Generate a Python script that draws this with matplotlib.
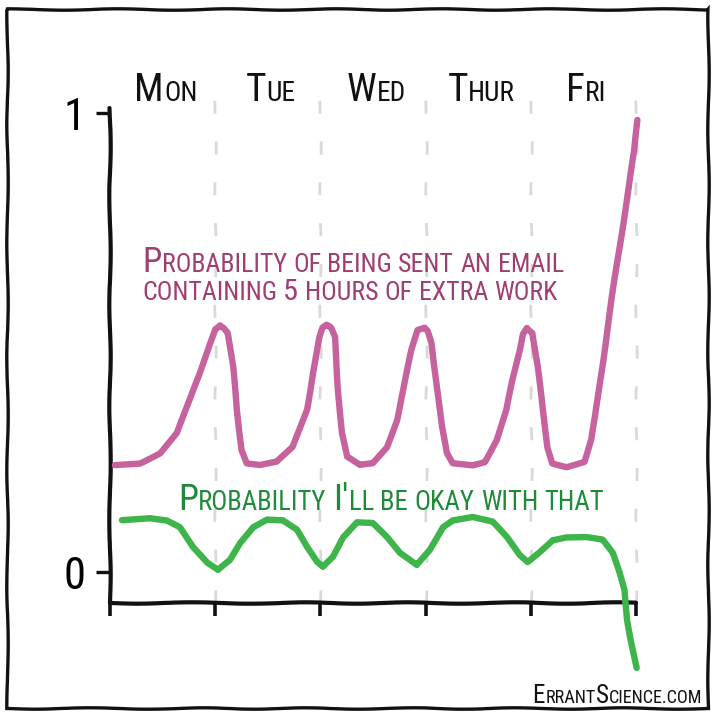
import numpy as np
import matplotlib
matplotlib.use("Agg")
import matplotlib.pyplot as plt
from matplotlib.transforms import IdentityTransform
from matplotlib.patches import Rectangle

# ---------------- data ----------------
days = ["Mon", "Tue", "Wed", "Thur", "Fri"]
day_bounds = [1, 2, 3, 4, 5]
x_ticks = [0, 1, 2, 3, 4, 5]
y_ticks = [0, 1]
y_tick_labels = ["0", "1"]

email_x = [0.047, 0.285, 0.475, 0.636, 0.760, 0.855, 0.950, 0.997, 1.045, 1.083,
           1.121, 1.168,
           1.206, 1.254, 1.301, 1.425, 1.586, 1.738, 1.871, 1.928, 1.994, 2.023,
           2.061, 2.099,
           2.137, 2.165, 2.203, 2.251, 2.374, 2.498, 2.631, 2.726, 2.801, 2.868,
           2.925, 2.991, 3.020, 3.058, 3.105, 3.153, 3.200, 3.257, 3.447, 3.561,
           3.675, 3.770, 3.827, 3.894, 3.922, 3.960, 4.017, 4.065, 4.112, 4.160,
           4.207, 4.340,
           4.511, 4.577, 4.615, 4.653, 4.720, 4.815, 4.910, 4.986, 5.014]
email_y = [0.233, 0.237, 0.259, 0.303, 0.375, 0.434, 0.499, 0.529, 0.538, 0.532,
           0.521, 0.447,
           0.353, 0.266, 0.237, 0.233, 0.240, 0.272, 0.353, 0.434, 0.512, 0.532,
           0.538, 0.532,
           0.512, 0.412, 0.303, 0.251, 0.233, 0.237, 0.272, 0.331, 0.412, 0.484,
           0.527, 0.532, 0.525, 0.499, 0.412, 0.316, 0.259, 0.237, 0.233, 0.240,
           0.288, 0.353, 0.418, 0.484, 0.519, 0.532, 0.521, 0.447, 0.353, 0.272,
           0.237, 0.229,
           0.240, 0.288, 0.342, 0.407, 0.516, 0.664, 0.810, 0.919, 0.985]

okay_x = [0.114, 0.380, 0.541, 0.665, 0.788, 0.921, 1.026, 1.140, 1.235, 1.358,
          1.491, 1.643, 1.776, 1.871, 1.966, 2.023, 2.118, 2.213, 2.346, 2.498,
          2.631, 2.754, 2.916, 3.039, 3.162, 3.257, 3.447, 3.637, 3.770, 3.894,
          3.970, 4.084, 4.207, 4.340, 4.530, 4.682, 4.777, 4.843, 4.891, 4.919,
          4.957, 5.005]
okay_y = [0.113, 0.118, 0.113, 0.098, 0.054, 0.020, 0.004, 0.026, 0.063, 0.098,
          0.115, 0.113, 0.092, 0.054, 0.022, 0.011, 0.033, 0.076, 0.109, 0.107,
          0.076, 0.041, 0.015, 0.048, 0.098, 0.113, 0.120, 0.109, 0.076, 0.037,
          0.022, 0.044, 0.070, 0.076, 0.076, 0.070, 0.041, -0.002, -0.039, -0.105,
          -0.155, -0.209]

email_label = ["Probability of being sent an email",
               "containing 5 hours of extra work"]
okay_label = "Probability I'll be okay with that"
credit = "ErrantScience.com"

# ---------------- style ----------------
FONT = ["Roboto Condensed", "Roboto", "DejaVu Sans"]
PINK = "#c6629e"
GREEN = "#3db54a"
PINK_TXT = "#a03e72"
GREEN_TXT = "#1f8a3a"
GRID = "#d9d9d9"

plt.rcParams["path.sketch"] = (0.7, 120, 2)
plt.rcParams["font.family"] = FONT

fig = plt.figure(figsize=(7.2, 7.2), dpi=100)
fig.patch.set_facecolor("white")
ax = fig.add_axes([110 / 720, 117 / 720, 526 / 720, 495 / 720])
ax.set_xlim(0, 4.995)
ax.set_ylim(-0.0675, 1.011)
ax.set_facecolor("none")

for s in ["top", "right"]:
    ax.spines[s].set_visible(False)
for s in ["left", "bottom"]:
    ax.spines[s].set_linewidth(3.0)
    ax.spines[s].set_color("#111111")
    ax.spines[s].set_capstyle("round")

ax.set_xticks(x_ticks)
ax.set_xticklabels([])
ax.tick_params(axis="x", direction="out", length=9, width=2.6, color="#111111")
ax.set_yticks(y_ticks)
ax.set_yticklabels(y_tick_labels, fontsize=32, family=FONT)
ax.tick_params(axis="y", direction="out", length=10, width=2.4, color="#111111", pad=8)

ax.vlines(day_bounds, -0.0675, 1.04, colors=GRID, linewidth=2.0,
          linestyles=(0, (4.7, 10)), clip_on=False, zorder=1)

l1, = ax.plot(email_x, email_y, color=PINK, lw=4.6, solid_capstyle="round",
              solid_joinstyle="round", clip_on=False, zorder=3)
l2, = ax.plot(okay_x, okay_y, color=GREEN, lw=4.6, solid_capstyle="round",
              solid_joinstyle="round", clip_on=False, zorder=3)
for ln in (l1, l2):
    ln.set_sketch_params(0.4, 150, 2)

fig.add_artist(Rectangle((7 / 720, 12 / 720), 701 / 720, 699 / 720,
                         transform=fig.transFigure, fill=False,
                         edgecolor="#111111", linewidth=2.4))

# ---------------- small-caps text helper ----------------
renderer = fig.canvas.get_renderer()


def measure(txt, size):
    t = fig.text(0, 0, txt, fontsize=size, family=FONT)
    w = t.get_window_extent(renderer).width
    t.remove()
    return w


def layout(s, big, small):
    mid = (big + small) / 2
    runs = []
    for ch in s:
        if ch == " ":
            runs.append([" ", small])
            continue
        if ch.isupper() or ch == "'":
            sz, c = big, ch
        elif ch.isdigit():
            sz, c = mid, ch
        else:
            sz, c = small, ch.upper()
        if runs and runs[-1][1] == sz and runs[-1][0] != " ":
            runs[-1][0] += c
        else:
            runs.append([c, sz])
    space_w = measure("X X", small) - measure("XX", small)
    widths = []
    for txt, sz in runs:
        if txt == " ":
            widths.append(space_w)
        else:
            widths.append(measure(txt, sz) + 0.01 * sz * 100 / 72)
    return runs, widths


def fit_scale(s, big, small, target):
    _, widths = layout(s, big, small)
    return target / sum(widths)


def smallcaps(x, y, s, big, small, color, transform, ha="left", scale=1.0):
    runs, widths = layout(s, big * scale, small * scale)
    total = sum(widths)
    x0, y0 = transform.transform((x, y))
    if ha == "center":
        x0 -= total / 2
    elif ha == "right":
        x0 -= total
    xc = x0
    for (txt, sz), w in zip(runs, widths):
        if txt != " ":
            fig.text(xc, y0, txt, transform=IdentityTransform(), fontsize=sz,
                     color=color, va="baseline", ha="left", family=FONT)
        xc += w


# day labels: common scale so that their total width matches the drawing
day_targets_total = 282.0
tot = sum(sum(layout(d, 30, 21)[1]) for d in days)
day_scale = min(1.15, day_targets_total / tot)
for i, d in enumerate(days):
    smallcaps(i + 0.53, 1.026, d, 30, 21, "#111111", ax.transData,
              ha="center", scale=day_scale)

s1 = min(1.2, fit_scale(email_label[0], 23, 17, 421))
smallcaps(0.304, 0.654, email_label[0], 23, 17, PINK_TXT, ax.transData, scale=s1)
smallcaps(0.304, 0.593, email_label[1], 23, 17, PINK_TXT, ax.transData, scale=s1)
s2 = min(1.2, fit_scale(okay_label, 23, 17, 428))
smallcaps(0.646, 0.135, okay_label, 23, 17, GREEN_TXT, ax.transData, scale=s2)
s3 = min(1.2, fit_scale(credit, 18, 13, 170))
smallcaps(0.976, 0.0236, credit, 18, 13, "#111111", fig.transFigure,
          ha="right", scale=s3)

fig.savefig("out.png", dpi=100, facecolor="white")
